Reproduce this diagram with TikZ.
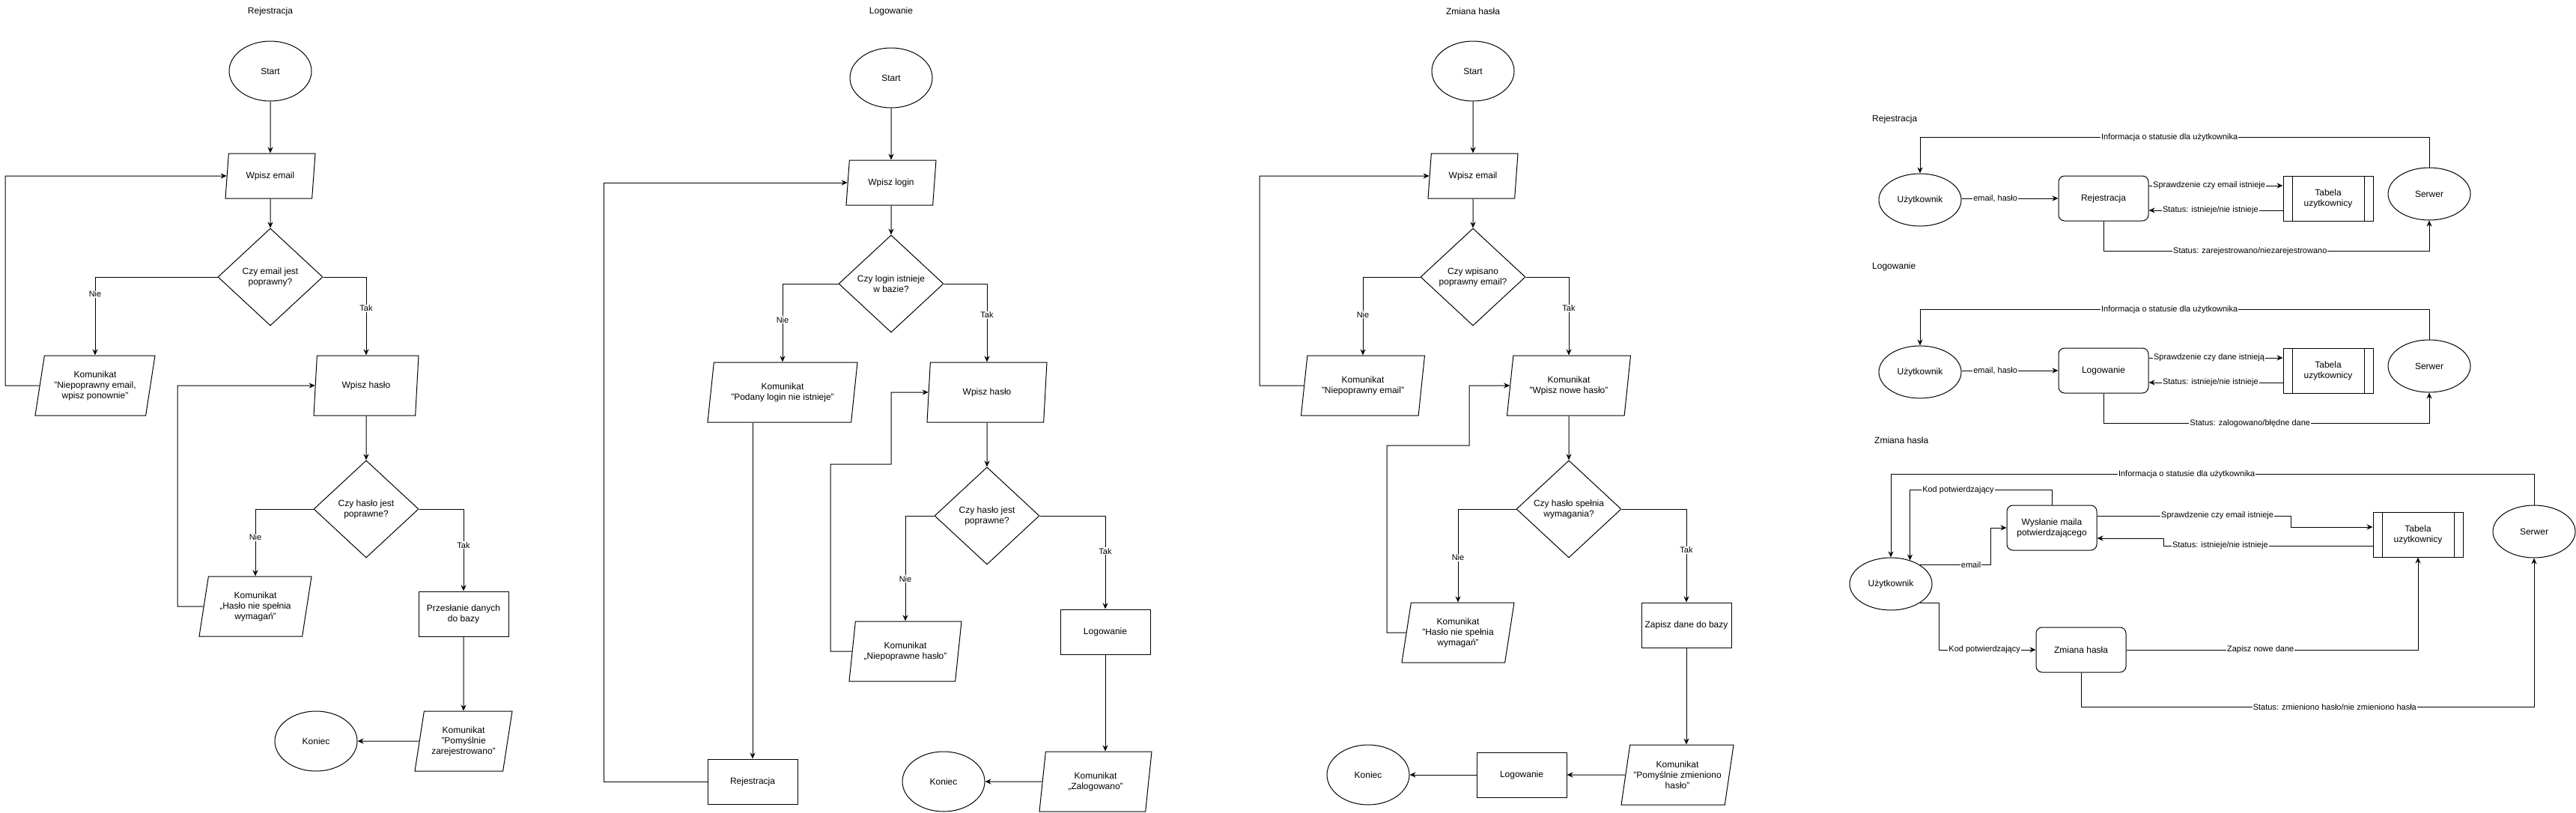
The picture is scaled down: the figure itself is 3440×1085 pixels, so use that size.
\documentclass[tikz,border=0pt]{standalone}
\usepackage{fontspec}
\setmainfont{Liberation Sans}
\usetikzlibrary{arrows.meta,shapes.geometric}
\tikzset{
  base/.style={draw,line width=1bp,align=center,inner sep=2bp},
  terminal/.style={base,ellipse,minimum width=110bp,minimum height=80bp},
  actor/.style={base,ellipse,minimum width=110bp,minimum height=70bp},
  iobox/.style={base,trapezium,trapezium left angle=74,trapezium right angle=106,
    trapezium stretches body,inner xsep=-12bp,minimum width=120bp,minimum height=60bp},
  decision/.style={base,diamond,aspect=1.08,inner sep=0pt,minimum width=140bp,minimum height=130bp},
  procbox/.style={base,rectangle,minimum width=120bp,minimum height=60bp},
  roundbox/.style={procbox,rounded corners=8bp},
  dbtable/.style={procbox,path picture={
    \draw[line width=1bp] ([xshift=12bp]path picture bounding box.north west)--([xshift=12bp]path picture bounding box.south west)
      ([xshift=-12bp]path picture bounding box.north east)--([xshift=-12bp]path picture bounding box.south east);}},
  flow/.style={line width=1bp,-{Stealth[length=8bp,width=7bp]}},
  lbl/.style={fill=white,inner sep=1bp,font=\fontsize{11bp}{13bp}\selectfont},
  title/.style={inner sep=0pt}
}
\begin{document}
\begin{tikzpicture}[x=1bp,y=-1bp,font=\fontsize{12bp}{14bp}\selectfont]
  \useasboundingbox[fill=white] (0,0) rectangle (3440,1085);

  % Rejestracja
  \node[title] (tReg) at (361,15) {Rejestracja};
  \node[terminal] (rStart) at (361,95) {Start};
  \node[iobox] (rEmail) at (361,235) {Wpisz email};
  \node[decision] (rCheck) at (361,370) {Czy email jest\\poprawny?};
  \node[iobox,minimum width=160bp,minimum height=80bp] (rBadMail) at (127,515) {Komunikat\\"Niepoprawny email,\\wpisz ponownie"};
  \node[iobox,minimum width=140bp,minimum height=80bp] (rPass) at (489,515) {Wpisz hasło};
  \node[decision] (rCheckPass) at (489,680) {Czy hasło jest\\poprawne?};
  \node[iobox,minimum width=150bp,minimum height=80bp] (rBadPass) at (341,810) {Komunikat\\,,Hasło nie spełnia\\wymagań"};
  \node[procbox] (rSave) at (619,820) {Przesłanie danych\\do bazy};
  \node[iobox,minimum width=130bp,minimum height=80bp] (rOk) at (619,990) {Komunikat\\"Pomyślnie\\zarejestrowano"};
  \node[terminal] (rEnd) at (422,990) {Koniec};

  \draw[flow] (rStart) -- (rEmail);
  \draw[flow] (rEmail) -- (rCheck);
  \draw[flow] (rCheck.west) -| node[lbl,pos=0.61] {Nie} (rBadMail.north);
  \draw[flow] (rCheck.east) -| node[lbl,pos=0.70] {Tak} (rPass.north);
  \draw[flow] (rBadMail.west) -- (7,515) |- (rEmail.west);
  \draw[flow] (rBadPass.west) -- (237,810) |- (rPass.west);
  \draw[flow] (rPass) -- (rCheckPass);
  \draw[flow] (rCheckPass.west) -| node[lbl,pos=0.71] {Nie} (rBadPass.north);
  \draw[flow] (rCheckPass.east) -| node[lbl,pos=0.72] {Tak} (rSave.north);
  \draw[flow] (rSave) -- (rOk);
  \draw[flow] (rOk.west) -- (rEnd.east);

  % Logowanie
  \node[title] (tLog) at (1190,15) {Logowanie};
  \node[terminal] (lStart) at (1190,104) {Start};
  \node[iobox] (lLogin) at (1190,244) {Wpisz login};
  \node[decision] (lCheck) at (1190,379) {Czy login istnieje\\w bazie?};
  \node[iobox,minimum width=200bp,minimum height=80bp] (lNoUser) at (1045,524) {Komunikat\\"Podany login nie istnieje"};
  \node[iobox,minimum width=160bp,minimum height=80bp] (lPass) at (1318,524) {Wpisz hasło};
  \node[decision] (lCheckPass) at (1318,689) {Czy hasło jest\\poprawne?};
  \node[iobox,minimum width=150bp,minimum height=80bp] (lBadPass) at (1209,870) {Komunikat\\,,Niepoprawne hasło"};
  \node[procbox] (lDone) at (1476,844) {Logowanie};
  \node[iobox,minimum width=150bp,minimum height=80bp] (lOk) at (1463,1044) {Komunikat\\,,Zalogowano"};
  \node[terminal] (lEnd) at (1260,1044) {Koniec};
  \node[procbox] (lReg) at (1005,1044) {Rejestracja};

  \draw[flow] (lStart) -- (lLogin);
  \draw[flow] (lLogin) -- (lCheck);
  \draw[flow] (lCheck.west) -| node[lbl,pos=0.73] {Nie} (lNoUser.north);
  \draw[flow] (lCheck.east) -| node[lbl,pos=0.70] {Tak} (lPass.north);
  \draw[flow] (lNoUser.south -| lReg.north) -- (lReg.north);
  \draw[flow] (lReg.west) -- (806,1044) |- (lLogin.west);
  \draw[flow] (lBadPass.west) -- (1109,870) |- (1190,620) |- (lPass.west);
  \draw[flow] (lPass) -- (lCheckPass);
  \draw[flow] (lCheckPass.west) -| node[lbl,pos=0.80] {Nie} (lBadPass.north);
  \draw[flow] (lCheckPass.east) -| node[lbl,pos=0.69] {Tak} (lDone.north);
  \draw[flow] (lDone.south) -- (lDone.south |- lOk.north);
  \draw[flow] (lOk.west) -- (lEnd.east);

  % Zmiana hasla
  \node[title] (tChg) at (1967,15) {Zmiana hasła};
  \node[terminal] (zStart) at (1967,95) {Start};
  \node[iobox] (zEmail) at (1967,235) {Wpisz email};
  \node[decision] (zCheck) at (1967,370) {Czy wpisano\\poprawny email?};
  \node[iobox,minimum width=165bp,minimum height=80bp] (zBadMail) at (1820,515) {Komunikat\\"Niepoprawny email"};
  \node[iobox,minimum width=165bp,minimum height=80bp] (zNewPass) at (2095,515) {Komunikat\\"Wpisz nowe hasło"};
  \node[decision] (zCheckPass) at (2095,680) {Czy hasło spełnia\\wymagania?};
  \node[iobox,minimum width=150bp,minimum height=80bp] (zBadPass) at (1947,845) {Komunikat\\"Hasło nie spełnia\\wymagań"};
  \node[procbox] (zSave) at (2252,835) {Zapisz dane do bazy};
  \node[iobox,minimum width=150bp,minimum height=80bp] (zOk) at (2240,1035) {Komunikat\\"Pomyślnie zmieniono\\hasło"};
  \node[procbox] (zLogin) at (2032,1035) {Logowanie};
  \node[terminal] (zEnd) at (1827,1035) {Koniec};

  \draw[flow] (zStart) -- (zEmail);
  \draw[flow] (zEmail) -- (zCheck);
  \draw[flow] (zCheck.west) -| node[lbl,pos=0.74] {Nie} (zBadMail.north);
  \draw[flow] (zCheck.east) -| node[lbl,pos=0.70] {Tak} (zNewPass.north);
  \draw[flow] (zBadMail.west) -- (1682,515) |- (zEmail.west);
  \draw[flow] (zBadPass.west) -- (1852,845) |- (1962,595) |- (zNewPass.west);
  \draw[flow] (zNewPass) -- (zCheckPass);
  \draw[flow] (zCheckPass.west) -| node[lbl,pos=0.76] {Nie} (zBadPass.north);
  \draw[flow] (zCheckPass.east) -| node[lbl,pos=0.72] {Tak} (zSave.north);
  \draw[flow] (zSave.south) -- (zSave.south |- zOk.north);
  \draw[flow] (zOk.west) -- (zLogin.east);
  \draw[flow] (zLogin.west) -- (zEnd.east);

  % DFD rejestracja
  \node[title,anchor=west] (tRegDfd) at (2500,159) {Rejestracja};
  \node[actor] (aUser) at (2564,267) {Użytkownik};
  \node[roundbox] (aReg) at (2809,265) {Rejestracja};
  \node[dbtable] (aTab) at (3109,265) {Tabela\\uzytkownicy};
  \node[actor] (aSrv) at (3244,259) {Serwer};

  \draw[flow] (aUser.east |- aReg) -- node[lbl,pos=0.35] {email, hasło} (aReg.west);
  \draw[flow] ([yshift=17bp]aReg.east) -- node[lbl,pos=0.45] {Sprawdzenie czy email istnieje} ([yshift=17bp]aTab.west);
  \draw[flow] ([yshift=-16bp]aTab.west) -- node[lbl,pos=0.54] {Status: istnieje/nie istnieje} ([yshift=-16bp]aReg.east);
  \draw[flow] (aReg.south) -- ++(0,40) -| node[lbl,pos=0.225] {Status: zarejestrowano/niezarejestrowano} (aSrv.south);
  \draw[flow] (aSrv.north) -- ++(0,-40) -| node[lbl,pos=0.255] {Informacja o statusie dla użytkownika} (aUser.north);

  % DFD logowanie
  \node[title,anchor=west] (tLogDfd) at (2500,356) {Logowanie};
  \node[actor] (bUser) at (2564,497) {Użytkownik};
  \node[roundbox] (bLog) at (2809,495) {Logowanie};
  \node[dbtable] (bTab) at (3109,495) {Tabela\\uzytkownicy};
  \node[actor] (bSrv) at (3244,489) {Serwer};

  \draw[flow] (bUser.east |- bLog) -- node[lbl,pos=0.35] {email, hasło} (bLog.west);
  \draw[flow] ([yshift=17bp]bLog.east) -- node[lbl,pos=0.45] {Sprawdzenie czy dane istnieją} ([yshift=17bp]bTab.west);
  \draw[flow] ([yshift=-16bp]bTab.west) -- node[lbl,pos=0.54] {Status: istnieje/nie istnieje} ([yshift=-16bp]bLog.east);
  \draw[flow] (bLog.south) -- ++(0,40) -| node[lbl,pos=0.225] {Status: zalogowano/błędne dane} (bSrv.south);
  \draw[flow] (bSrv.north) -- ++(0,-40) -| node[lbl,pos=0.255] {Informacja o statusie dla użytkownika} (bUser.north);

  % DFD zmiana hasla
  \node[title,anchor=west] (tChgDfd) at (2503,588) {Zmiana hasła};
  \node[actor] (cUser) at (2525,780) {Użytkownik};
  \node[roundbox] (cMail) at (2740,705) {Wysłanie maila\\potwierdzającego};
  \node[dbtable] (cTab) at (3229,714) {Tabela\\uzytkownicy};
  \node[actor] (cSrv) at (3384,710) {Serwer};
  \node[roundbox] (cChange) at (2779,868) {Zmiana hasła};

  \draw[flow] (cSrv.north) -- ++(0,-41) -| node[lbl,pos=0.27] {Informacja o statusie dla użytkownika} (cUser.north);
  \draw[flow] (cMail.north) -- ++(0,-20) -| node[lbl,pos=0.33] {Kod potwierdzający} (cUser.51);
  \draw[flow] (cUser.33) -| node[lbl,pos=0.36] {email} ([xshift=-21bp]cMail.west) -- (cMail.west);
  \draw[flow] ([yshift=16bp]cMail.east) -- node[lbl,pos=0.62] {Sprawdzenie czy email istnieje} ++(259,0) |- ([yshift=10bp]cTab.west);
  \draw[flow] ([yshift=-15bp]cTab.west) -- node[lbl,pos=0.73] {Status: istnieje/nie istnieje} ++(-279,0) |- ([yshift=-14bp]cMail.east);
  \draw[flow] (cUser.-33) -| ([xshift=-129bp]cChange.west) -- node[lbl,pos=0.47] {Kod potwierdzający} (cChange.west);
  \draw[flow] (cChange.east) -| node[lbl,pos=0.23] {Zapisz nowe dane} (cTab.south);
  \draw[flow] (cChange.south) -- ++(0,46) -| node[lbl,pos=0.28] {Status: zmieniono hasło/nie zmieniono hasła} (cSrv.south);
\end{tikzpicture}
\end{document}
